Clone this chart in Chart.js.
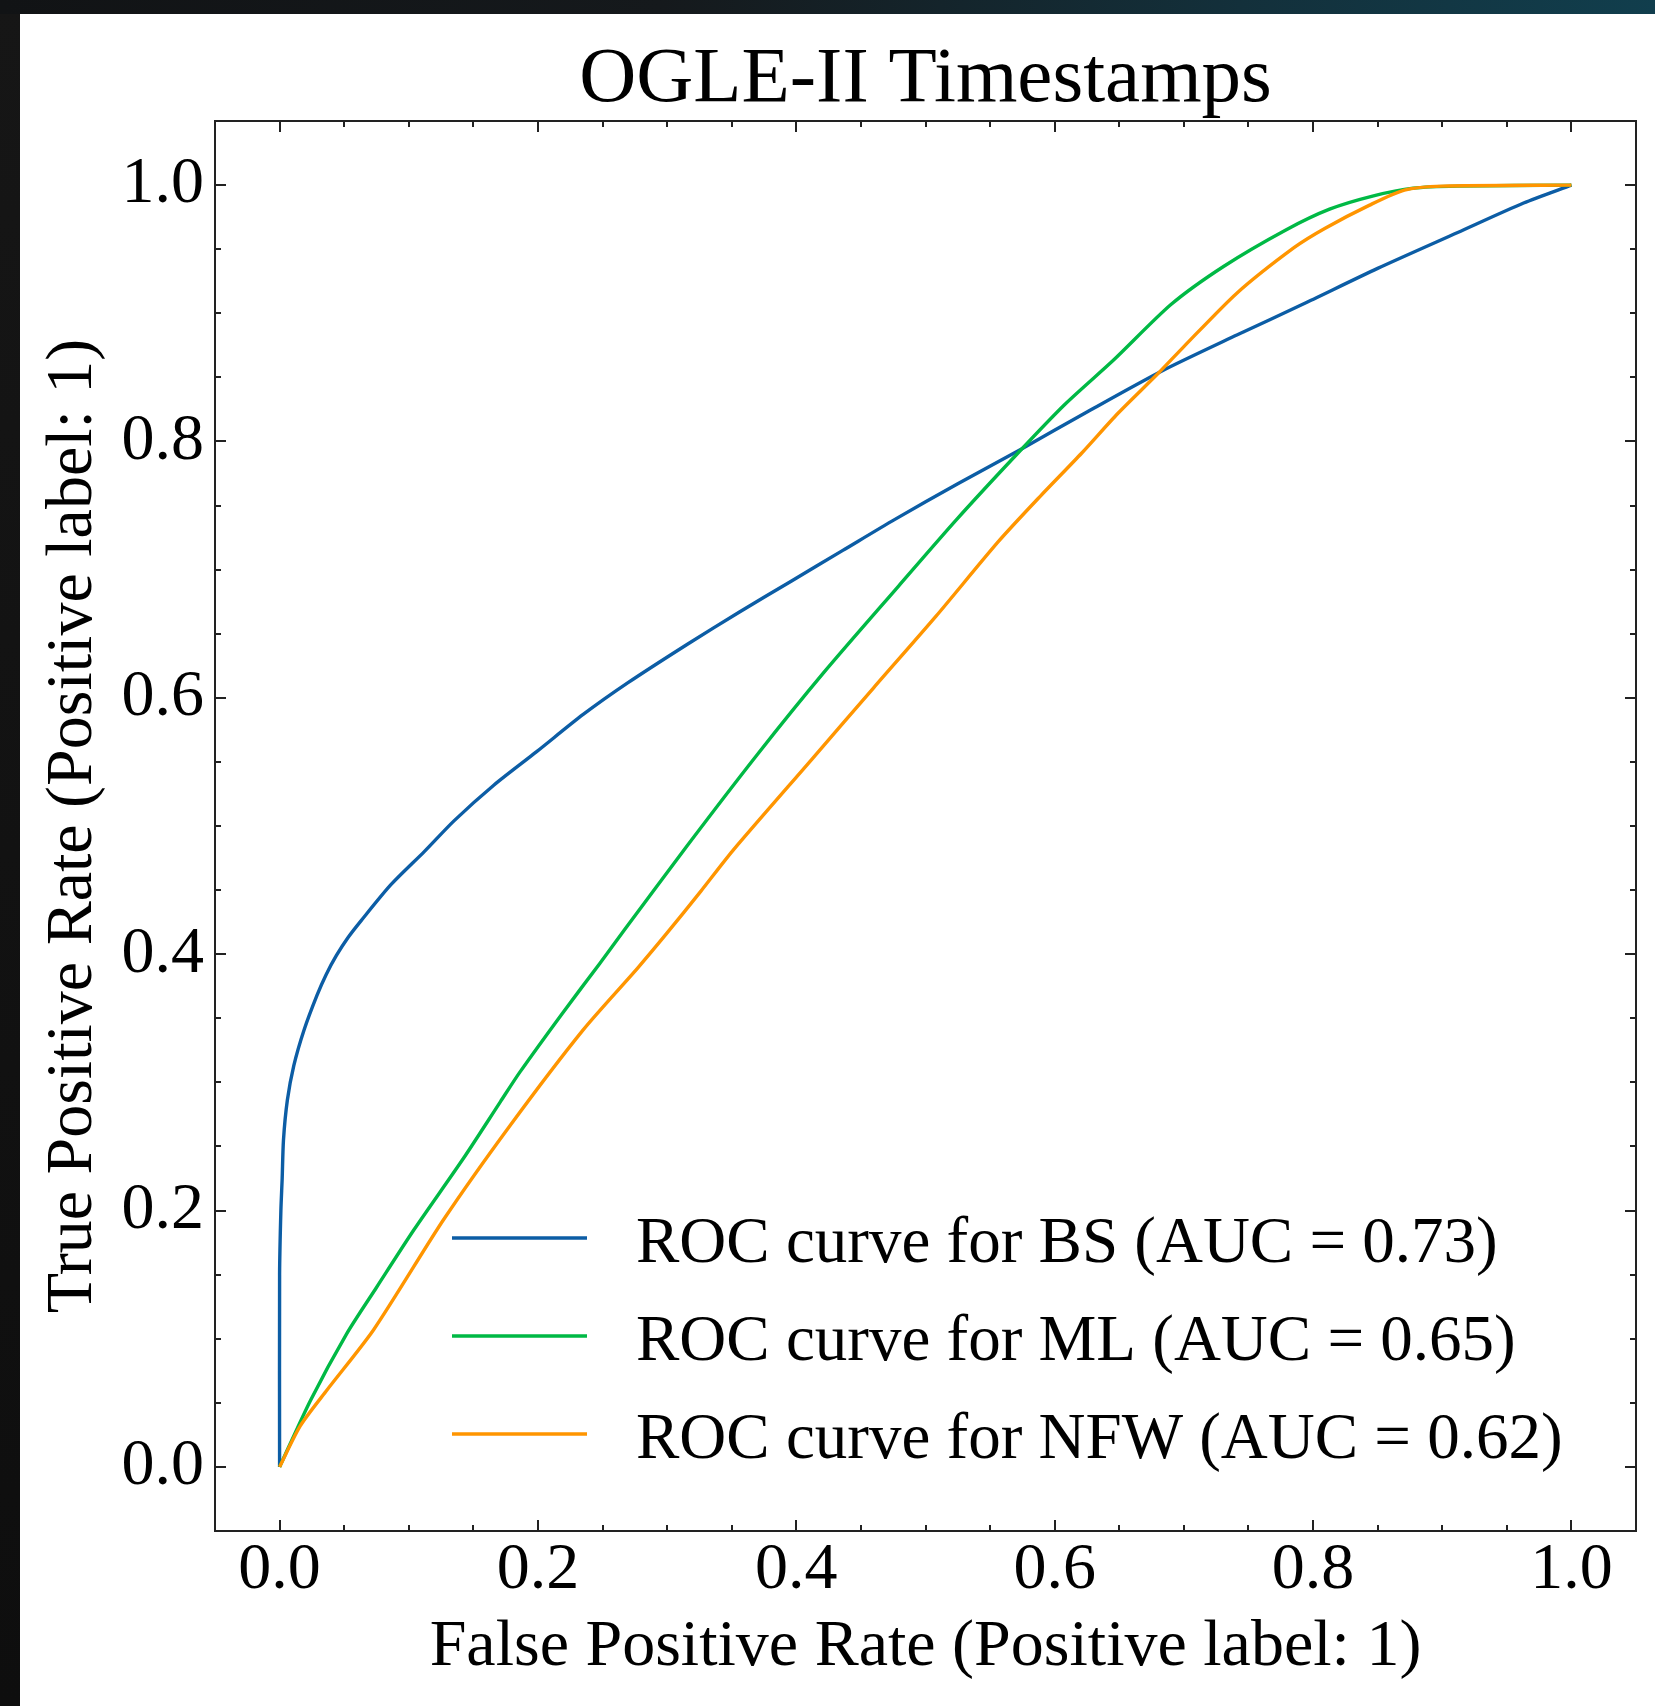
<!DOCTYPE html>
<html>
<head>
<meta charset="utf-8">
<script src="https://cdn.jsdelivr.net/npm/chart.js@4/dist/chart.umd.min.js"></script>
<style>
  html, body { margin: 0; padding: 0; }
  body { width: 1655px; height: 1706px; background: linear-gradient(180deg, #161616 0%, #0e0e0e 100%); position: relative; overflow: hidden; }
  #topstrip { position: absolute; left: 0; top: 0; width: 1655px; height: 14px; background: linear-gradient(90deg, #111315 0%, #15191c 40%, #13303b 75%, #113e4d 100%); }
  #panel { position: absolute; left: 20px; top: 14px; width: 1635px; height: 1692px; background: #ffffff; }
  canvas { display: block; }
</style>
</head>
<body>
<div id="topstrip"></div>
<div id="panel"><canvas id="c" width="1635" height="1692"></canvas></div>
<script>
// ---------------- data ----------------
const chartTitle = 'OGLE-II Timestamps';
const xAxisLabel = 'False Positive Rate (Positive label: 1)';
const yAxisLabel = 'True Positive Rate (Positive label: 1)';

const xTickValues = [0.0, 0.2, 0.4, 0.6, 0.8, 1.0];
const yTickValues = [0.0, 0.2, 0.4, 0.6, 0.8, 1.0];

const seriesLabels = [
  'ROC curve for BS (AUC = 0.73)',
  'ROC curve for ML (AUC = 0.65)',
  'ROC curve for NFW (AUC = 0.62)'
];
const seriesColors = ['#0C5DA5', '#00B945', '#FF9500'];

const bsFpr = [0, 0, 0.001, 0.002, 0.003, 0.006, 0.011, 0.019, 0.029, 0.036, 0.044, 0.053, 0.063, 0.086, 0.112, 0.135, 0.166, 0.199, 0.235, 0.270, 0.316, 0.356, 0.396, 0.436, 0.476, 0.525, 0.574, 0.625, 0.683, 0.741, 0.792, 0.850, 0.912, 0.963, 1.0];
const bsTpr = [0, 0.150, 0.200, 0.225, 0.255, 0.286, 0.313, 0.341, 0.368, 0.384, 0.399, 0.413, 0.426, 0.454, 0.480, 0.504, 0.532, 0.558, 0.587, 0.612, 0.642, 0.667, 0.691, 0.715, 0.739, 0.767, 0.794, 0.823, 0.855, 0.883, 0.907, 0.935, 0.963, 0.986, 1.0];

const mlFpr = [0, 0.024, 0.052, 0.075, 0.104, 0.1425, 0.171, 0.186, 0.219, 0.248, 0.267, 0.3155, 0.370, 0.4215, 0.479, 0.524, 0.5707, 0.608, 0.6456, 0.690, 0.7307, 0.7786, 0.8128, 0.8468, 0.8776, 0.9117, 1.0];
const mlTpr = [0, 0.052, 0.104, 0.140, 0.185, 0.241, 0.285, 0.308, 0.354, 0.393, 0.419, 0.4846, 0.556, 0.620, 0.687, 0.739, 0.790, 0.829, 0.8635, 0.9068, 0.9365, 0.9648, 0.9812, 0.9916, 0.9976, 0.9992, 1.0];

const nfwFpr = [0, 0.016, 0.0367, 0.0728, 0.127, 0.1786, 0.235, 0.277, 0.2995, 0.326, 0.351, 0.412, 0.460, 0.508, 0.5565, 0.5886, 0.621, 0.649, 0.680, 0.700, 0.741, 0.7855, 0.8094, 0.8434, 0.8707, 0.900, 1.0];
const nfwTpr = [0, 0.032, 0.060, 0.107, 0.193, 0.2666, 0.341, 0.389, 0.416, 0.449, 0.481, 0.552, 0.608, 0.6635, 0.722, 0.757, 0.791, 0.822, 0.853, 0.874, 0.9157, 0.9514, 0.9664, 0.9842, 0.9961, 0.9992, 1.0];

// ---------------- helpers ----------------
const FONT = '"Liberation Serif", "Times New Roman", serif';
function toPoints(xs, ys) { return xs.map((x, i) => ({ x: x, y: ys[i] })); }

const allFpr = [bsFpr, mlFpr, nfwFpr];
const allTpr = [bsTpr, mlTpr, nfwTpr];
const drawOrder = [3, 2, 1];

const datasets = seriesLabels.map((lab, i) => ({
  label: lab,
  data: toPoints(allFpr[i], allTpr[i]),
  borderColor: seriesColors[i],
  backgroundColor: seriesColors[i],
  borderWidth: 3.4,
  pointRadius: 0,
  tension: 0.25,
  fill: false,
  order: drawOrder[i]
}));

// inward ticks on all four sides + frame
const framePlugin = {
  id: 'frame',
  afterDatasetsDraw(chart) {
    const { ctx, chartArea: a, scales } = chart;
    const xs = scales.x, ys = scales.y;
    ctx.save();
    ctx.strokeStyle = '#222222';
    ctx.lineWidth = 2;
    ctx.lineCap = 'butt';
    const majorLen = 11, minorLen = 6;
    const minorStep = 0.05;
    const isMajor = v => Math.abs(v / 0.2 - Math.round(v / 0.2)) < 1e-6;
    ctx.beginPath();
    for (let k = 1; k <= 21; k++) {
      const v = k * minorStep - 0.05;
      if (v < -0.001 || v > 1.001) continue;
      const len = isMajor(v) ? majorLen : minorLen;
      const px = Math.round(xs.getPixelForValue(v));
      ctx.moveTo(px, a.bottom); ctx.lineTo(px, a.bottom - len);
      ctx.moveTo(px, a.top); ctx.lineTo(px, a.top + len);
      const py = Math.round(ys.getPixelForValue(v));
      ctx.moveTo(a.left, py); ctx.lineTo(a.left + len, py);
      ctx.moveTo(a.right, py); ctx.lineTo(a.right - len, py);
    }
    ctx.stroke();
    ctx.strokeRect(a.left, a.top, a.right - a.left, a.bottom - a.top);
    ctx.restore();
  }
};

// legend drawn inside the axes (lower right)
const legendPlugin = {
  id: 'innerLegend',
  afterDraw(chart) {
    const { ctx, chartArea: a } = chart;
    ctx.save();
    const lineX0 = a.left + 237, lineX1 = a.left + 372;
    const textX = a.left + 421;
    const firstRowY = a.bottom - 293;
    const rowGap = 98;
    ctx.font = '65px ' + FONT;
    ctx.textBaseline = 'alphabetic';
    ctx.textAlign = 'left';
    chart.data.datasets.forEach((ds, i) => {
      const y = firstRowY + i * rowGap;
      ctx.strokeStyle = ds.borderColor;
      ctx.lineWidth = 3.4;
      ctx.beginPath();
      ctx.moveTo(lineX0, y); ctx.lineTo(lineX1, y);
      ctx.stroke();
      ctx.fillStyle = '#000000';
      ctx.fillText(ds.label, textX, y + 23.5);
    });
    ctx.restore();
  }
};

const chart = new Chart(document.getElementById('c'), {
  type: 'line',
  data: { datasets: datasets },
  options: {
    responsive: false,
    animation: false,
    devicePixelRatio: 1,
    layout: { padding: { left: 0, right: 19, top: 0, bottom: 0 } },
    plugins: {
      legend: { display: false },
      tooltip: { enabled: false },
      title: {
        display: true,
        fullSize: false,
        text: chartTitle,
        color: '#000000',
        font: { family: FONT, size: 79, weight: 'normal', lineHeight: 1.0 },
        padding: { top: 27, bottom: 1 }
      }
    },
    scales: {
      x: {
        type: 'linear',
        min: -0.05,
        max: 1.05,
        afterBuildTicks: s => { s.ticks = xTickValues.map(v => ({ value: v })); },
        afterFit: s => { s.height = 175; },
        grid: { display: false, drawTicks: false },
        border: { display: false },
        ticks: {
          color: '#000000',
          padding: 7,
          maxRotation: 0,
          autoSkip: false,
          font: { family: FONT, size: 66, lineHeight: 1.0 },
          callback: v => Number(v).toFixed(1)
        },
        title: {
          display: true,
          text: xAxisLabel,
          color: '#000000',
          font: { family: FONT, size: 66, lineHeight: 1.2 },
          padding: { top: 0, bottom: 19 }
        }
      },
      y: {
        type: 'linear',
        min: -0.05,
        max: 1.05,
        afterBuildTicks: s => { s.ticks = yTickValues.map(v => ({ value: v })); },
        afterFit: s => { s.width = 195; },
        grid: { display: false, drawTicks: false },
        border: { display: false },
        ticks: {
          color: '#000000',
          padding: 11,
          autoSkip: false,
          font: { family: FONT, size: 66, lineHeight: 1.0 },
          callback: v => Number(v).toFixed(1)
        },
        title: {
          display: true,
          text: yAxisLabel,
          color: '#000000',
          font: { family: FONT, size: 66, lineHeight: 1.2 },
          padding: { top: 14, bottom: 0 }
        }
      }
    }
  },
  plugins: [framePlugin, legendPlugin]
});
</script>
</body>
</html>
